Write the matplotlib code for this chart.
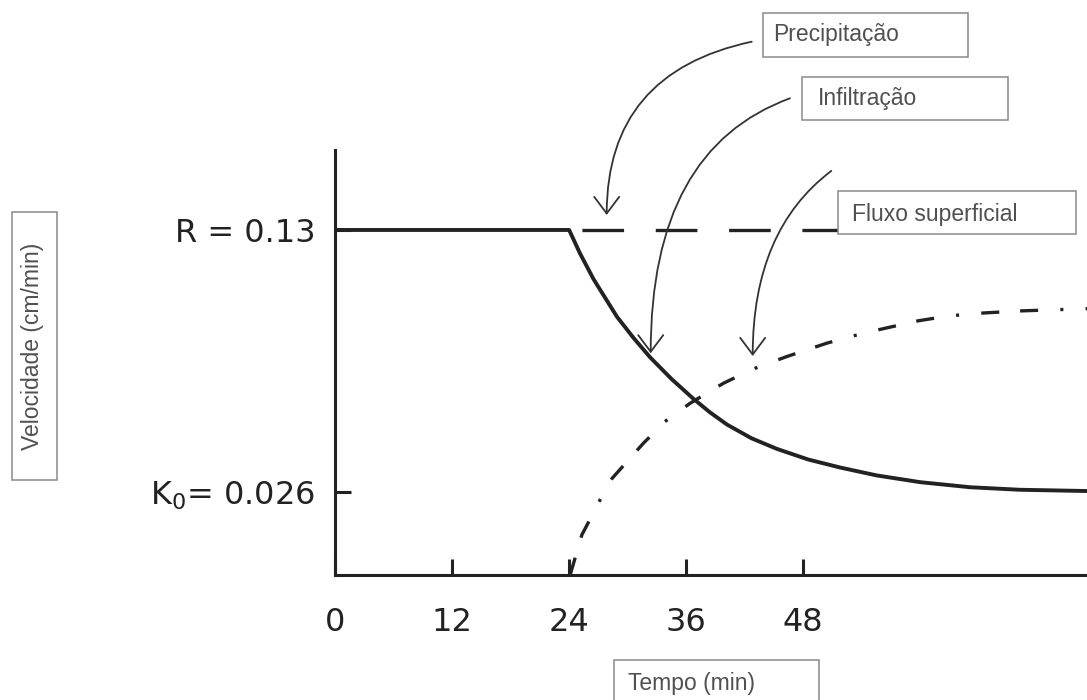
#Curva de infiltracao: precipitacao, infiltracao e fluxo superficial
import matplotlib
matplotlib.use('Agg')
import matplotlib.pyplot as plt
from matplotlib.patches import Rectangle

#valores (tempo em min, velocidade em cm/min)
x_ticks = [0, 12, 24, 36, 48]
x_tick_labels = ['0', '12', '24', '36', '48']
y_ticks = [0.026, 0.13]
y_tick_labels = [r'$\mathregular{K_0}$= 0.026', 'R = 0.13']

precip_t = [24, 77.1]
precip_v = [0.13, 0.13]

infil_t = [0, 24, 25.1, 26.5, 28.9, 30.6, 32.3, 34.5, 36.7, 38.4, 40.2,
           42.7, 45.3, 48.5, 51.8, 55.5, 60.0, 65.1, 70.2, 77.1]
infil_v = [0.13, 0.13, 0.1208, 0.1105, 0.0956, 0.0872, 0.0795, 0.0709,
           0.0632, 0.0578, 0.0528, 0.0474, 0.0432, 0.0390, 0.0358, 0.0327,
           0.0300, 0.0280, 0.0270, 0.0265]

runoff_t = [24.1, 25.3, 26.1, 27.2, 28.4, 31.6, 33.8, 36.4, 39.8, 42.8, 46.3,
            50.4, 52.8, 55.9, 59.8, 62.9, 66.1, 70.2, 73.3, 77.1]
runoff_v = [-0.0068, 0.0091, 0.015, 0.0232, 0.0315, 0.0454, 0.054, 0.0613,
            0.0692, 0.0748, 0.0798, 0.0851, 0.0877, 0.0906, 0.094, 0.0959,
            0.097, 0.0979, 0.0983, 0.0988]

W, H = 1087, 700
ink = '#222222'
box_ink = '#505050'
box_edge = '#8a8a8a'

def fx(x):
    return x / W

def fy(y):
    #y medido de cima para baixo na imagem
    return 1 - y / H

plt.rcParams['lines.scale_dashes'] = False
plt.rcParams['mathtext.fontset'] = 'dejavusans'

fig = plt.figure(figsize=(W / 100, H / 100), dpi=100)
ax = fig.add_axes([fx(335), fy(575), fx(1087 - 335), (575 - 150) / H])

ax.plot(infil_t, infil_v, color=ink, lw=2.8, solid_joinstyle='round', zorder=3)
ax.plot(precip_t, precip_v, color=ink, lw=2.4,
        linestyle=(43.5, (30.0, 22.8)), dash_capstyle='butt', zorder=2)
ax.plot(runoff_t, runoff_v, color=ink, lw=2.4,
        linestyle=(0, (13, 15, 13, 16, 2.2, 16)), dash_capstyle='butt', zorder=2)

ax.set_xlim(0, 77.08)
ax.set_ylim(-0.00679, 0.1617)
ax.set_xticks(x_ticks, labels=x_tick_labels)
ax.set_yticks(y_ticks, labels=y_tick_labels)

for s in ['top', 'right']:
    ax.spines[s].set_visible(False)
for s in ['left', 'bottom']:
    ax.spines[s].set_linewidth(2.2)
    ax.spines[s].set_color(ink)

ax.tick_params(axis='both', direction='in', length=11.5, width=2.2, color=ink,
               labelsize=23, labelcolor=ink)
ax.tick_params(axis='x', pad=23)
ax.tick_params(axis='y', pad=14)

#setas curvas (coordenadas em pixels da figura)
arrows = [((751.7, 658.3), (606.7, 485.0), 12),
          ((790.0, 601.7), (650.7, 346.7), 20),
          ((831.3, 529.1), (752.7, 344.0), 37)]
for start, tip, ang in arrows:
    ax.annotate('', xy=tip, xycoords='figure pixels',
                xytext=start, textcoords='figure pixels',
                arrowprops=dict(arrowstyle='->,head_length=0.6,head_width=0.45',
                                connectionstyle='angle3,angleA=%d,angleB=90' % ang,
                                color='#333333', lw=1.3, shrinkA=0, shrinkB=0,
                                mutation_scale=20),
                annotation_clip=False, zorder=4)

#caixas de texto
boxes = [(763.3, 13.3, 968.3, 56.7, 773.3, 40.7, 'Precipitação'),
         (801.7, 76.7, 1008.3, 120.0, 818.3, 105.0, 'Infiltração'),
         (838.3, 191.0, 1076.0, 234.0, 851.7, 220.7, 'Fluxo superficial'),
         (613.5, 660.0, 818.5, 712.0, 628.3, 690.0, 'Tempo (min)')]
for x0, y0, x1, y1, tx, ty, label in boxes:
    fig.add_artist(Rectangle((fx(x0), fy(y1)), fx(x1 - x0), (y1 - y0) / H,
                             transform=fig.transFigure, facecolor='white',
                             edgecolor=box_edge, lw=1.1, zorder=5))
    fig.text(fx(tx), fy(ty), label, ha='left', va='baseline', fontsize=16.5,
             family='Liberation Sans', color=box_ink, zorder=6)

fig.add_artist(Rectangle((fx(11.7), fy(480)), fx(45), (480 - 211.7) / H,
                         transform=fig.transFigure, facecolor='white',
                         edgecolor=box_edge, lw=1.1, zorder=5))
fig.text(fx(33), fy(346), 'Velocidade (cm/min)', rotation=90, ha='center',
         va='center', fontsize=16.5, family='Liberation Sans', color=box_ink,
         zorder=6)

fig.savefig('out.png', dpi=100, facecolor='white')
